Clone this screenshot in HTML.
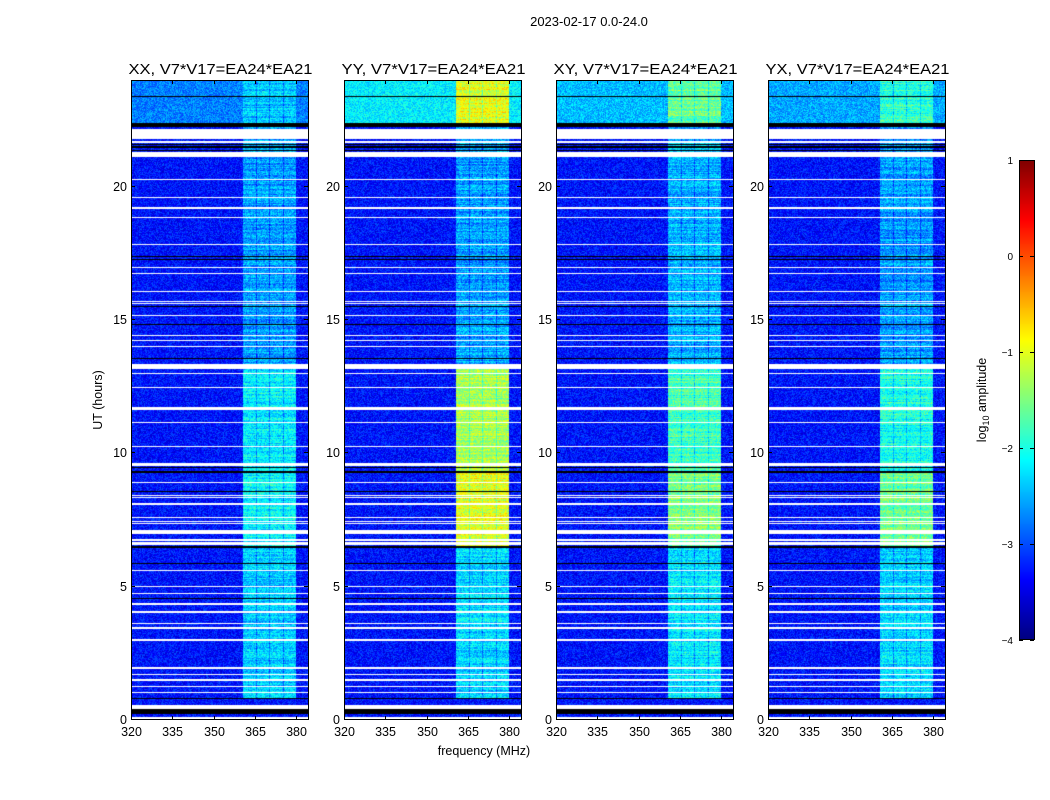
<!DOCTYPE html>
<html><head><meta charset="utf-8">
<style>
body{margin:0;background:#fff;width:1050px;height:800px;overflow:hidden;font-family:"Liberation Sans",sans-serif;}
#wrap{position:relative;width:1050px;height:800px;}
canvas{position:absolute;}
svg{position:absolute;left:0;top:0;}
</style></head><body>
<div id="wrap">
<canvas id="c0" width="177" height="640" style="left:131px;top:80px"></canvas>
<canvas id="c1" width="177" height="640" style="left:344px;top:80px"></canvas>
<canvas id="c2" width="177" height="640" style="left:556px;top:80px"></canvas>
<canvas id="c3" width="177" height="640" style="left:768px;top:80px"></canvas>
<canvas id="cb" width="15" height="480" style="left:1019px;top:160px"></canvas>
<svg id="ax" width="1050" height="800"></svg>
</div>
<script>
// ---- data ----
const panelTitles = ["XX, V7*V17=EA24*EA21","YY, V7*V17=EA24*EA21","XY, V7*V17=EA24*EA21","YX, V7*V17=EA24*EA21"];
const segEdges = [0, 0.8, 6.5, 9.3, 13.2, 22.4, 24];
const bandXX = [-3.3, -2.35, -2.15, -2.2, -2.6, -2.4];
const bandYY = [-3.3, -2.3, -1.0, -1.3, -2.6, -1.0];
const bandXY = [-3.3, -2.2, -1.5, -1.8, -2.5, -1.6];
const bandYX = [-3.3, -2.3, -1.6, -2.0, -2.6, -1.9];
const bgXX = [-3.3, -3.3, -3.3, -3.3, -3.3, -2.75];
const bgYY = [-3.3, -3.3, -3.3, -3.3, -3.3, -2.2];
const bgXY = [-3.3, -3.3, -3.3, -3.3, -3.3, -2.45];
const bgYX = [-3.3, -3.3, -3.3, -3.3, -3.3, -2.55];
const bandFreqLo = 360.8, bandFreqHi = 380;
const dipFreqs = [365.6, 370.3, 375.3];
const whiteFlags = [[0,0.11],[0.4,0.58],[1.0,1.04],[1.22,1.26],[1.48,1.52],[1.7,1.74],[1.93,1.97],[2.98,3.02],[3.43,3.47],[3.61,3.65],[4.03,4.07],[4.33,4.37],[4.73,4.77],[4.98,5.02],[5.58,5.62],[6.58,6.66],[6.73,6.77],[6.98,7.12],[7.36,7.4],[7.44,7.48],[7.58,7.62],[8.08,8.12],[8.33,8.37],[8.41,8.45],[8.88,8.92],[9.53,9.57],[9.58,9.62],[10.23,10.27],[11.13,11.17],[11.63,11.67],[11.68,11.72],[12.45,12.49],[12.98,13.02],[13.18,13.36],[13.98,14.02],[14.21,14.25],[14.4,14.44],[15.15,15.19],[15.6,15.64],[15.68,15.72],[16.05,16.09],[16.72,16.76],[16.95,16.99],[17.81,17.85],[18.82,18.86],[19.18,19.22],[19.58,19.62],[20.24,20.28],[21.1,21.3],[21.62,21.7],[21.8,22.18]];
const blackFlags = [[0.22,0.4],[0.8,0.84],[4.55,4.59],[5.86,5.9],[6.44,6.52],[8.56,8.6],[9.28,9.33],[9.45,9.49],[13.53,13.57],[14.81,14.85],[15.48,15.52],[17.25,17.29],[17.36,17.4],[21.33,21.37],[21.45,21.52],[21.56,21.6],[22.25,22.38],[23.35,23.39]];
const xTicks = [320,335,350,365,380];
const yTicks = [0,5,10,15,20];
const cbTicks = [1,0,-1,-2,-3,-4];
const bands = [bandXX,bandYY,bandXY,bandYX];
const bgs = [bgXX,bgYY,bgXY,bgYX];

// ---- scales ----
const panelX = [131,344,556,768], PW = 177, PT = 80, PH = 640;
const fMin = 320, fMax = 384.3, tMin = 0, tMax = 24;
const xs = (p,f)=>panelX[p] + (f-fMin)/(fMax-fMin)*PW;
const ys = t=>PT + PH - (t-tMin)/(tMax-tMin)*PH;
const cbY = v=>160 + (1-v)/5*480;

function jet(v){
  let x = (v+4)/5; x = Math.max(0,Math.min(1,x));
  const cl=a=>Math.max(0,Math.min(1,a));
  return [cl(1.5-Math.abs(4*x-3))*255, cl(1.5-Math.abs(4*x-2))*255, cl(1.5-Math.abs(4*x-1))*255];
}
function hash(a,b){let h=(a*374761393+b*668265263)|0;h=(h^(h>>>13))*1274126177|0;return ((h^(h>>>16))>>>0)/4294967296;}
function inFlags(t,fl){for(const f of fl){if(t>=f[0]&&t<f[1])return true;}return false;}
function seg(t){for(let i=0;i<segEdges.length-1;i++){if(t>=segEdges[i]&&t<segEdges[i+1])return i;}return segEdges.length-2;}

for(let p=0;p<4;p++){
  const cv=document.getElementById('c'+p), ctx=cv.getContext('2d');
  const img=ctx.createImageData(PW,PH);
  for(let r=0;r<PH;r++){
    const t = tMax - (r+0.5)/PH*(tMax-tMin);
    const white=inFlags(t,whiteFlags), black=inFlags(t,blackFlags);
    const s=seg(t);
    const rowN=(hash(r,p*7+3)-0.5)*0.45;
    for(let c=0;c<PW;c++){
      const f = fMin + (c+0.5)/PW*(fMax-fMin);
      let rgb;
      if(white) rgb=[255,255,255];
      else if(black) rgb=[0,0,0];
      else{
        let v = bgs[p][s];
        if(f>=bandFreqLo && f<bandFreqHi && s>0){
          v = bands[p][s] + rowN;
          for(const d of dipFreqs){ if(Math.abs(f-d)<0.25) v -= 0.45; }
        }
        v += (hash(c+p*1000,r)-0.5)*0.7;
        rgb=jet(v);
      }
      const i=(r*PW+c)*4;
      img.data[i]=rgb[0];img.data[i+1]=rgb[1];img.data[i+2]=rgb[2];img.data[i+3]=255;
    }
  }
  ctx.putImageData(img,0,0);
}
// colorbar
(function(){
  const cv=document.getElementById('cb'),ctx=cv.getContext('2d');
  for(let r=0;r<480;r++){const v=1-(r+0.5)/480*5;const c=jet(v);ctx.fillStyle=`rgb(${c[0]|0},${c[1]|0},${c[2]|0})`;ctx.fillRect(0,r,15,1);}
})();

// ---- axes (svg) ----
const NS='http://www.w3.org/2000/svg', svg=document.getElementById('ax');
function mk(tag,attrs,parent){const e=document.createElementNS(NS,tag);for(const k in attrs)e.setAttribute(k,attrs[k]);(parent||svg).appendChild(e);return e;}
function txt(x,y,s,size,anchor,parent,rot){const e=mk('text',{x:x,y:y,'font-size':size,'text-anchor':anchor||'middle','font-family':'Liberation Sans, sans-serif',fill:'#000'},parent);if(rot)e.setAttribute('transform',`rotate(${rot} ${x} ${y})`);e.textContent=s;return e;}

const title=txt(589,26,'2023-02-17 0.0-24.0',13);



for(let p=0;p<4;p++){
  const g=mk('g',{});
  
  
  const x0=panelX[p];
  const fr=mk('rect',{x:x0+0.5,y:PT+0.5,width:PW,height:PH-1,fill:'none',stroke:'#000','stroke-width':1},g);
  
  
  const tt=txt(x0+PW/2+1,74,panelTitles[p],15,'middle',g);
  tt.setAttribute('textLength','184');
  tt.setAttribute('lengthAdjust','spacingAndGlyphs');
  
  
  for(const f of xTicks){
    const x=Math.round(xs(p,f))+0.5;
    mk('line',{x1:x,x2:x,y1:PT+PH,y2:PT+PH-4,stroke:'#000'},g);
    mk('line',{x1:x,x2:x,y1:PT,y2:PT+4,stroke:'#000'},g);
    const l=txt(x,736,String(f),12.5,'middle',g);
    
    
  }
  for(const t of yTicks){
    const y=Math.round(ys(t))-0.5;
    mk('line',{x1:x0,x2:x0+4,y1:y,y2:y,stroke:'#000'},g);
    mk('line',{x1:x0+PW,x2:x0+PW-4,y1:y,y2:y,stroke:'#000'},g);
    const l=txt(x0-4,y+4.5,String(t),12.5,'end',g);
    
    
  }
}
const yl=txt(102,400,'UT (hours)',12.5,'middle',null,-90);


const xl=txt(484,755,'frequency (MHz)',12.5,'middle');


// colorbar axis
const cbf=mk('rect',{x:1019.5,y:160.5,width:15,height:479,fill:'none',stroke:'#000'});


for(const v of cbTicks){
  const y=Math.round(cbY(v))+0.5;
  mk('line',{x1:1019,x2:1023,y1:y,y2:y,stroke:'#000'});
  mk('line',{x1:1034,x2:1030,y1:y,y2:y,stroke:'#000'});
  const l=txt(1013,y+3.5,v<0?'\u2212'+(-v):String(v),10,'end');
  
  
}
const cl=mk('text',{x:986,y:400,'font-size':12.5,'text-anchor':'middle','font-family':'Liberation Sans, sans-serif',transform:'rotate(-90 986 400)'});


cl.innerHTML='log<tspan font-size="9" dy="3">10</tspan><tspan dy="-3"> amplitude</tspan>';
</script>
</body></html>
